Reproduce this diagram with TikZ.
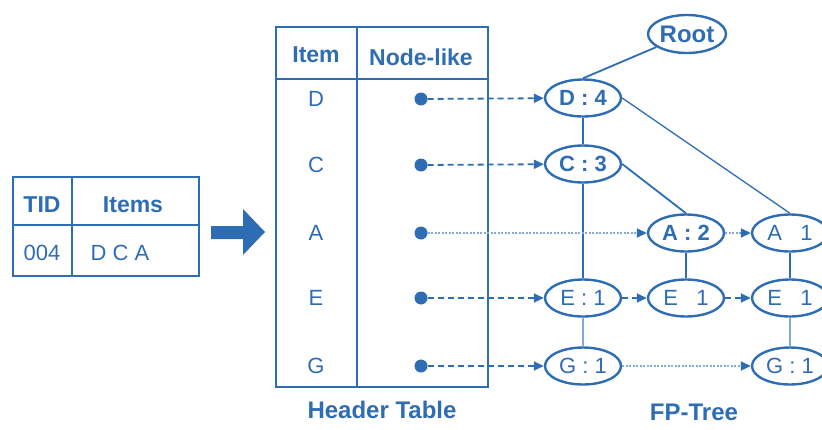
\documentclass[tikz,border=0pt]{standalone}
\usepackage{fontspec}
\setmainfont{Liberation Sans}
\usepackage{xcolor}
\usepackage{tikz}
\usetikzlibrary{shapes.geometric,arrows.meta}
\definecolor{fpblue}{HTML}{2E6DB4}
\definecolor{fplight}{HTML}{86AAD6}
\tikzset{
  box/.style={draw=fpblue, line width=2pt},
  hd/.style={text=fpblue, font=\bfseries\fontsize{23}{26}\selectfont},
  cell/.style={text=fpblue, font=\fontsize{22}{26}\selectfont},
  ttl/.style={text=fpblue, font=\bfseries\fontsize{24}{28}\selectfont},
  fpnode/.style={ellipse, draw=fpblue, line width=2.4pt, minimum width=76pt, minimum height=37pt,
    inner sep=0pt, text=fpblue, font=\fontsize{22}{26}\selectfont},
  bnode/.style={fpnode, font=\bfseries\fontsize{22}{26}\selectfont},
  branch/.style={draw=fpblue, line width=1.8pt},
  faintbranch/.style={draw=fplight, line width=1.8pt},
  link/.style={draw=fpblue, line width=1.8pt, dash pattern=on 6pt off 4pt,
    -{Triangle[length=10pt,width=9pt]}},
  dotlink/.style={draw=fplight, line width=1.8pt, dash pattern=on 2pt off 1.5pt,
    -{Triangle[length=10pt,width=9pt,color=fpblue]}},
  pt/.style={circle, fill=fpblue, inner sep=0pt, minimum size=13pt},
}

\begin{document}
\begin{tikzpicture}[x=1pt,y=-1pt]
  \useasboundingbox (0,0) rectangle (822,429);

  % transaction
  \draw[box] (13,177) rectangle (199,276);
  \draw[box] (13,225) -- (199,225);
  \draw[box] (72,177) -- (72,276);
  \node[hd] (tid) at (42,205) {TID};
  \node[hd] (items) at (133,205) {Items};
  \node[cell] (tidno) at (42,253) {004};
  \node[cell] (tidset) at (120,253) {D C A};

  % big arrow
  \fill[fpblue] (211,226) -- (243,226) -- (243,209) -- (265,232) -- (243,255)
    -- (243,239) -- (211,239) -- cycle;

  % header table
  \draw[box] (276,27) rectangle (488,387);
  \draw[box] (276,79) -- (488,79);
  \draw[box] (357,27) -- (357,387);
  \node[hd] (hitem) at (316,55) {Item};
  \node[hd] (hlink) at (421,57) {Node-like};
  \foreach \name/\y/\lab in {d/99/D, c/165/C, a/233/A, e/298/E, g/366/G} {
    \node[cell] (i\name) at (316,\y) {\lab};
    \node[pt] (p\name) at (421,\y) {};
  }
  \node[ttl] (htab) at (382,410) {Header Table};

  % fp-tree
  \node[bnode, minimum width=78pt, minimum height=38pt,
    font=\bfseries\fontsize{24}{28}\selectfont] (root) at (687,34) {Root};
  \node[bnode] (d4) at (583,98) {D : 4};
  \node[bnode] (c3) at (583,164) {C : 3};
  \node[bnode] (a2) at (686,233) {A : 2};
  \node[fpnode] (a1) at (790,233) {A \phantom{:} 1};
  \node[fpnode] (e1) at (583,298) {E : 1};
  \node[fpnode] (e1b) at (686,298) {E \phantom{:} 1};
  \node[fpnode] (e1c) at (790,298) {E \phantom{:} 1};
  \node[fpnode] (g1) at (583,366) {G : 1};
  \node[fpnode] (g1b) at (790,366) {G : 1};
  \node[ttl] (fptree) at (694,412) {FP-Tree};

  \draw[branch] (root) -- (d4.north);
  \draw[branch] (d4) -- (c3);
  \draw[branch, line width=1.3pt] (d4.east) -- (a1.north);
  \draw[branch] (c3.east) -- (a2.north);
  \draw[branch, line width=1.3pt] (c3) -- (e1);
  \draw[branch] (a2) -- (e1b);
  \draw[branch] (a1) -- (e1c);
  \draw[faintbranch] (e1) -- (g1);
  \draw[faintbranch] (e1c) -- (g1b);

  % node links
  \draw[link] (pd) -- (d4);
  \draw[link] (pc) -- (c3);
  \draw[dotlink] (pa) -- (a2);
  \draw[link] (pe) -- (e1);
  \draw[link] (pg) -- (g1);
  \draw[dotlink] (a2) -- (a1);
  \draw[link] (e1) -- (e1b);
  \draw[link] (e1b) -- (e1c);
  \draw[dotlink] (g1) -- (g1b);
\end{tikzpicture}
\end{document}
